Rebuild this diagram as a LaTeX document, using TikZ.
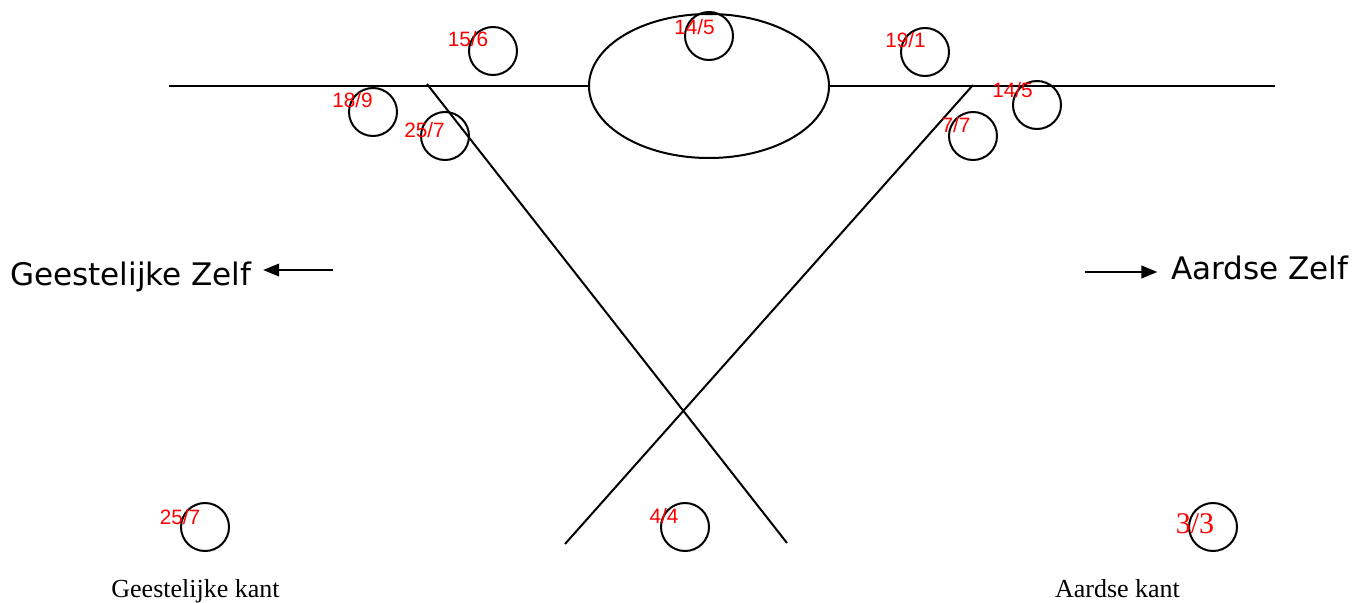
\documentclass[tikz,border=0pt]{standalone}
\usepackage{fontspec}
\setmainfont{Liberation Serif}
\newfontfamily\verd{DejaVu Sans}
\newfontfamily\arial{Liberation Sans}
\usetikzlibrary{arrows.meta,shapes.geometric}

\tikzset{
  dag/.style={draw, circle, minimum size=36pt, inner sep=0pt},
  datum/.style={text=red, inner sep=0pt, font=\arial\fontsize{15.6}{18}\selectfont},
  zelf/.style={inner sep=0pt, anchor=base west, font=\verd\fontsize{23.3}{27}\selectfont},
  kant/.style={inner sep=0pt, anchor=base, font=\fontsize{19.5}{23}\selectfont},
  pijl/.style={-{Triangle[length=12pt,width=9.5pt]}, line width=1.3pt}
}

\begin{document}
\begin{tikzpicture}[x=0.75pt,y=-0.75pt,line width=1.5pt]
\useasboundingbox (0,0) rectangle (1356,603);

% horizon en oog
\node[draw, ellipse, minimum width=180pt, minimum height=108pt, inner sep=0pt] (oog) at (709,86) {};
\coordinate (links) at (169,86);
\coordinate (rechts) at (1275,86);
\draw (links) -- (oog.west);
\draw (oog.east) -- (rechts);

% de twee schuine lijnen
\coordinate (lbov) at (427,84);
\coordinate (lond) at (787,543);
\coordinate (rbov) at (973,85);
\coordinate (rond) at (565,544);
\draw (lbov) -- (lond);
\draw (rbov) -- (rond);

% cirkels
\node[dag] (c156) at (493,51) {};
\node[dag] (c189) at (373,112) {};
\node[dag] (c257) at (445,136) {};
\node[dag] (c145a) at (709,36) {};
\node[dag] (c191) at (925,52) {};
\node[dag] (c145b) at (1037,105) {};
\node[dag] (c77) at (973,136) {};
\node[dag] (c257b) at (205,527) {};
\node[dag] (c44) at (685,527) {};
\node[dag] (c33) at (1213,527) {};

% datums
\node[datum] (d156) at (468,39) {15/6};
\node[datum] (d189) at (352.5,100) {18/9};
\node[datum] (d257) at (424.5,130) {25/7};
\node[datum] (d145a) at (694.5,27) {14/5};
\node[datum] (d191) at (905.5,40) {19/1};
\node[datum] (d145b) at (1012.5,90) {14/5};
\node[datum] (d77) at (956,125) {7/7};
\node[datum] (d257b) at (180,517) {25/7};
\node[datum] (d44) at (664,516) {4/4};
\node[text=red, inner sep=0pt, font=\fontsize{22.5}{26}\selectfont] (d33) at (1195,524) {3/3};

% zelf
\node[zelf] (gz) at (9,285) {Geestelijke Zelf};
\node[zelf] (az) at (1170,279) {Aardse Zelf};
\coordinate (gstart) at (333,270);
\coordinate (astart) at (1085,272);
\draw[pijl, shorten >=8pt] (gstart) -- (gstart -| gz.east);
\draw[pijl, shorten >=9.5pt] (astart) -- (astart -| az.west);

% kanten
\node[kant] (gk) at (195.5,597) {Geestelijke kant};
\node[kant] (ak) at (1117.5,597) {Aardse kant};

\end{tikzpicture}
\end{document}
